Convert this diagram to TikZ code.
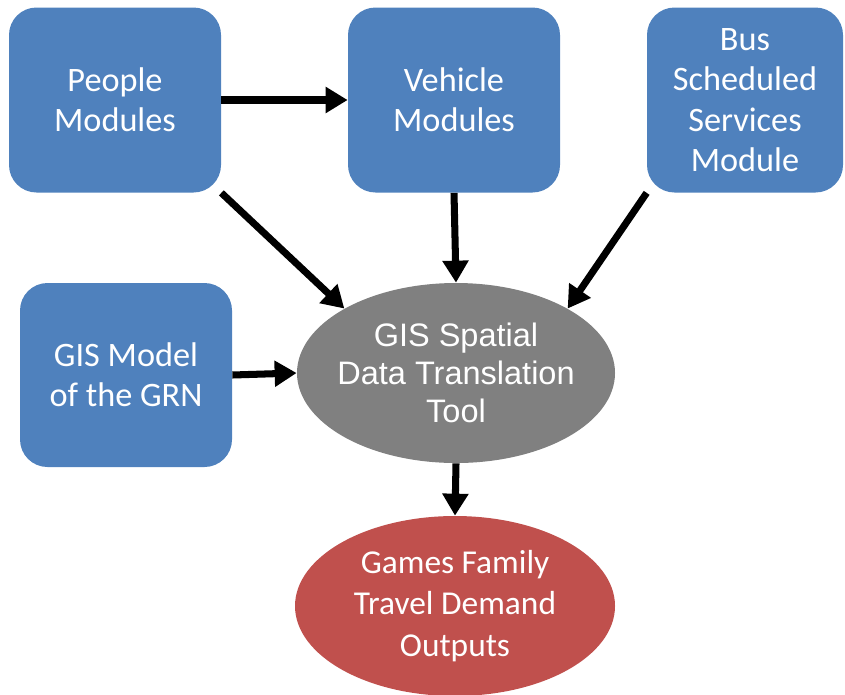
\documentclass[tikz,border=0pt]{standalone}
\usepackage{fontspec}
\setmainfont{Carlito}
\newfontfamily\arialfont{Liberation Sans}
\usetikzlibrary{shapes.geometric,arrows.meta}

\definecolor{boxblue}{HTML}{4F81BD}
\definecolor{toolgray}{HTML}{808080}
\definecolor{outred}{HTML}{C0504D}

\tikzset{
  module/.style={rectangle, rounded corners=0.55cm, fill=boxblue, text=white,
    minimum width=4.24cm, minimum height=3.7cm, align=center,
    font=\fontsize{19.5}{23}\selectfont},
  blob/.style={ellipse, text=white, align=center, inner sep=0pt},
  flow/.style={line width=4pt, -{Triangle[length=4.4mm,width=5mm]}}
}

\begin{document}
\begin{tikzpicture}
% Fix the page to the reference size
\useasboundingbox (0,0) rectangle (16.9,-13.88);

% Source modules along the top
\node[module] (people) at (2.3,-2.0) {People\\Modules};
\node[module] (vehicle) at (9.08,-2.0) {Vehicle\\Modules};
\node[module, minimum width=3.92cm] (bus) at (14.9,-2.0) {Bus\\Scheduled\\Services\\Module};

% GIS model on the left
\node[module, minimum height=3.68cm] (gis) at (2.52,-7.5) {GIS Model\\of the GRN};

% Translation tool and outputs (tool text runs close to its rim)
\node[blob, fill=toolgray, minimum width=6.36cm, minimum height=3.6cm, inner sep=-0.2cm,
  font=\arialfont\fontsize{18.5}{21.6}\selectfont] (tool) at (9.12,-7.46)
  {GIS Spatial\\Data Translation\\Tool};
\node[blob, fill=outred, minimum width=6.4cm, minimum height=3.6cm,
  font=\fontsize{19}{23.5}\selectfont] (out) at (9.1,-12.12)
  {Games Family\\Travel Demand\\Outputs};

% Connectors
\draw[flow] (people.east) -- (vehicle.west);
\draw[flow] (people.south east) -- (tool.150);
\draw[flow] (vehicle.south) -- (tool.north);
\draw[flow] (bus.south west) -- (tool.30);
\draw[flow] (gis.east) -- (tool.west);
\draw[flow] (tool.south) -- (out.north);
\end{tikzpicture}
\end{document}
